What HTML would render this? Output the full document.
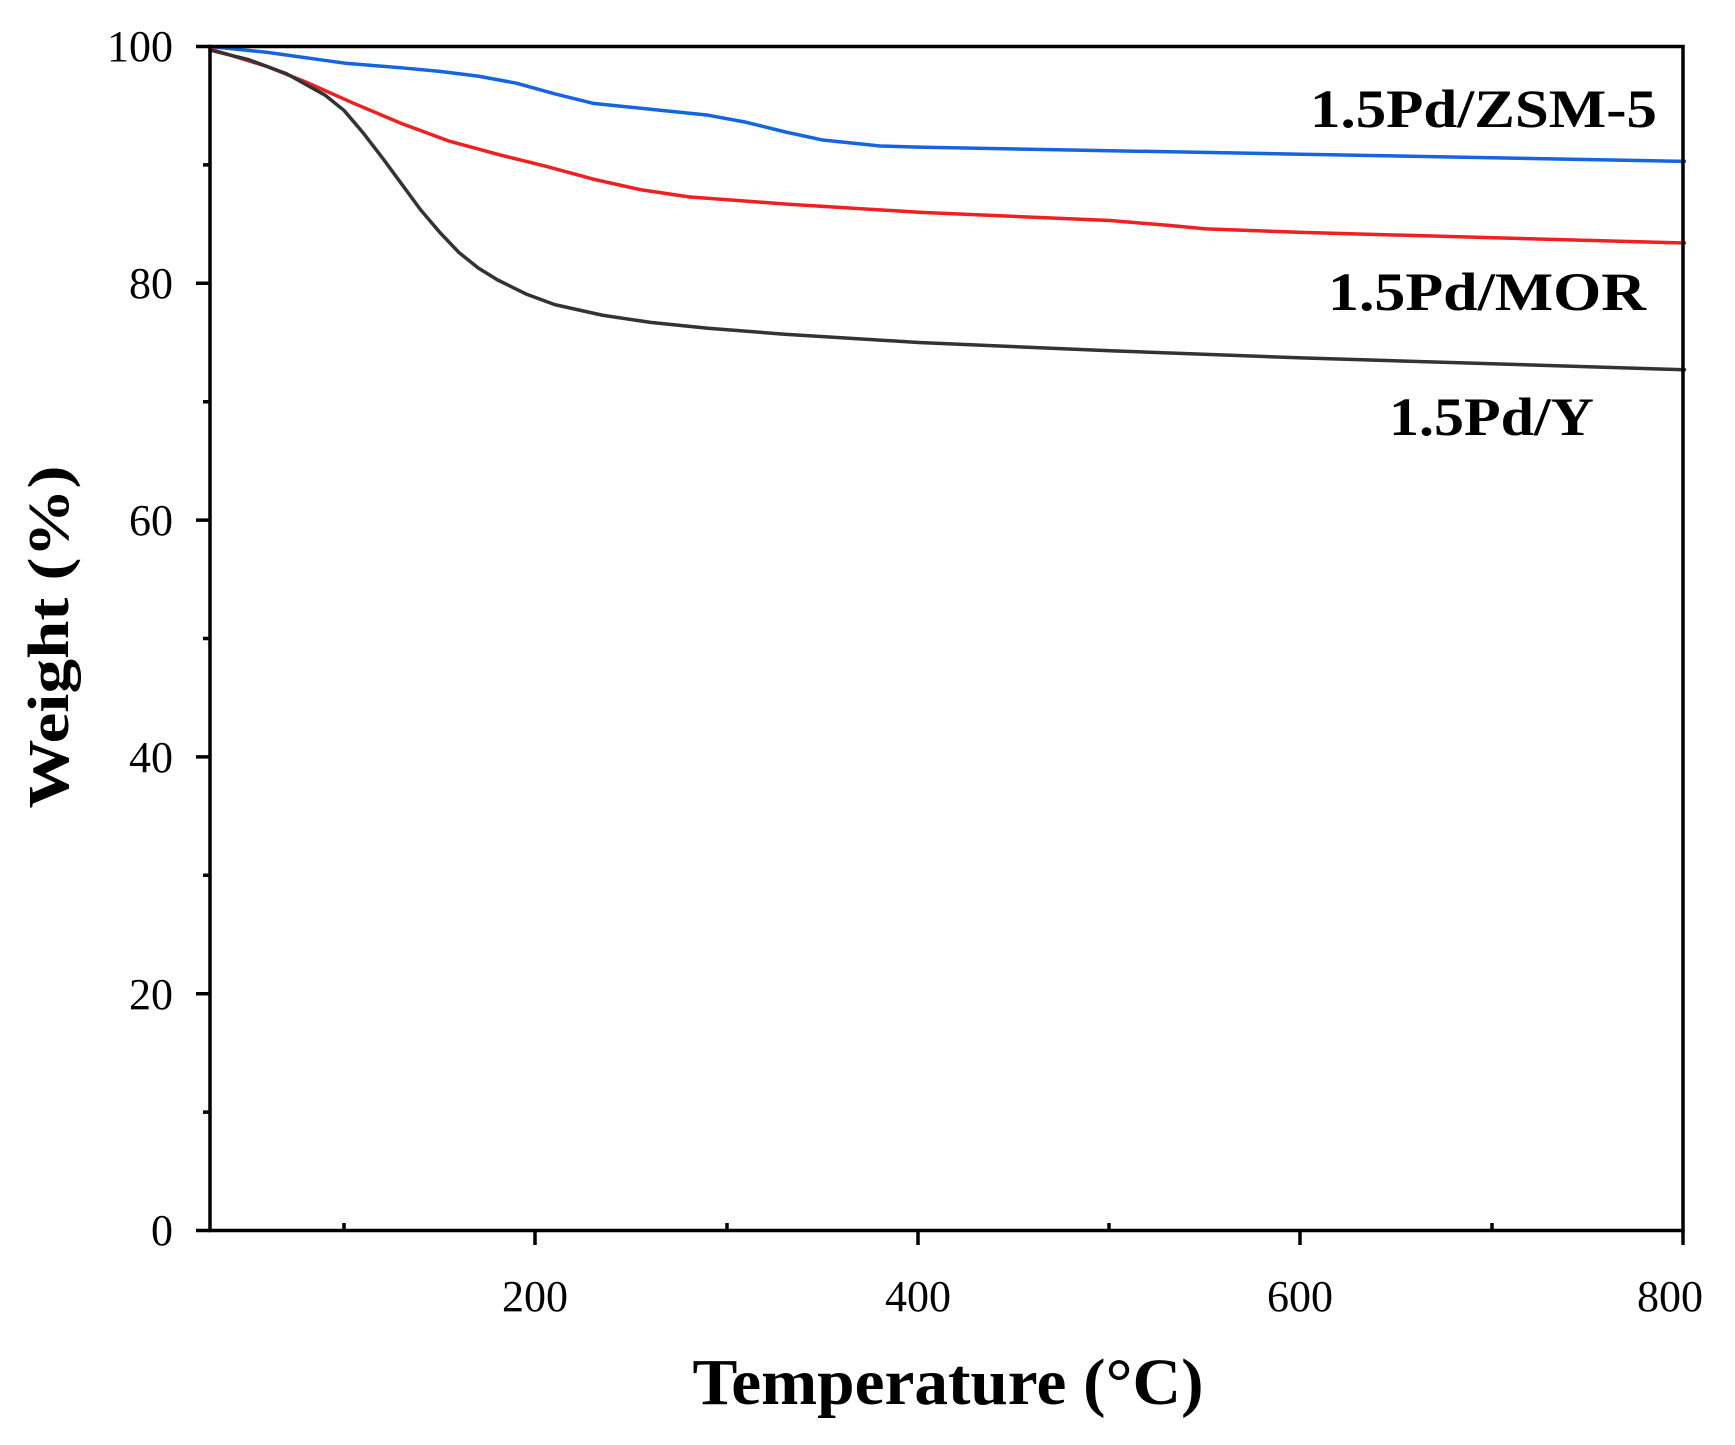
<!DOCTYPE html>
<html><head><style>html,body{margin:0;padding:0;background:#fff;}</style></head>
<body>
<svg width="1735" height="1440" xmlns="http://www.w3.org/2000/svg" font-family="Liberation Serif, serif">
<rect width="1735" height="1440" fill="#fff"/>
<g transform="translate(152.55,1230.5) scale(1.915,-11.84)" fill="none" stroke-linejoin="round" stroke-linecap="round">
<polyline vector-effect="non-scaling-stroke" stroke="#1565e0" stroke-width="3.5" points="30,100 60,99.5 100,98.6 130,98.2 150,97.9 170,97.5 190,96.9 210,96 230,95.2 260,94.7 290,94.2 310,93.6 330,92.8 350,92.1 380,91.6 400,91.5 500,91.2 600,90.9 800,90.3"/>
<polyline vector-effect="non-scaling-stroke" stroke="#f02020" stroke-width="3.5" points="30,99.8 60,98.3 80,97 105,95.2 130,93.5 155,92 180,90.9 205,89.9 230,88.8 255,87.9 280,87.3 330,86.7 400,86 500,85.3 530,84.9 550,84.6 600,84.3 800,83.4"/>
<polyline vector-effect="non-scaling-stroke" stroke="#333" stroke-width="3.5" points="30,99.7 50,98.9 70,97.7 90,95.9 100,94.6 110,92.7 120,90.6 130,88.4 140,86.2 150,84.3 160,82.6 170,81.3 180,80.3 195,79.1 210,78.2 235,77.3 260,76.7 290,76.2 330,75.7 400,75 500,74.3 600,73.7 800,72.7"/>
</g>
<g stroke="#000" stroke-width="3.5" fill="none">
<rect x="210" y="46.5" width="1473" height="1184"/>
<path d="M196,46.5H210M196,283.3H210M196,520.1H210M196,756.9H210M196,993.7H210M196,1230.5H210
M203,164.9H210M203,401.7H210M203,638.5H210M203,875.3H210M203,1112.1H210
M535,1230V1245M918,1230V1245M1300,1230V1245M1683,1230V1245
M344,1223V1230M727,1223V1230M1109,1223V1230M1492,1223V1230"/>
</g>
<g font-size="44" fill="#000" text-anchor="end">
<text x="173" y="61">100</text>
<text x="173" y="298">80</text>
<text x="173" y="535">60</text>
<text x="173" y="772">40</text>
<text x="173" y="1009">20</text>
<text x="173" y="1245">0</text>
</g>
<g font-size="44" fill="#000" text-anchor="middle">
<text x="535" y="1311">200</text>
<text x="918" y="1311">400</text>
<text x="1300" y="1311">600</text>
<text x="1670" y="1311">800</text>
</g>
<g font-size="54" font-weight="bold" fill="#000">
<text x="1310" y="127" textLength="347" lengthAdjust="spacingAndGlyphs">1.5Pd/ZSM-5</text>
<text x="1328" y="310" textLength="318" lengthAdjust="spacingAndGlyphs">1.5Pd/MOR</text>
<text x="1389" y="435" textLength="205" lengthAdjust="spacingAndGlyphs">1.5Pd/Y</text>
</g>
<text x="948" y="1404" font-size="66" font-weight="bold" text-anchor="middle" textLength="511" lengthAdjust="spacingAndGlyphs">Temperature (°C)</text>
<text transform="translate(68,637) rotate(-90)" font-size="58" font-weight="bold" text-anchor="middle" textLength="343" lengthAdjust="spacingAndGlyphs">Weight (%)</text>
</svg>
</body></html>
